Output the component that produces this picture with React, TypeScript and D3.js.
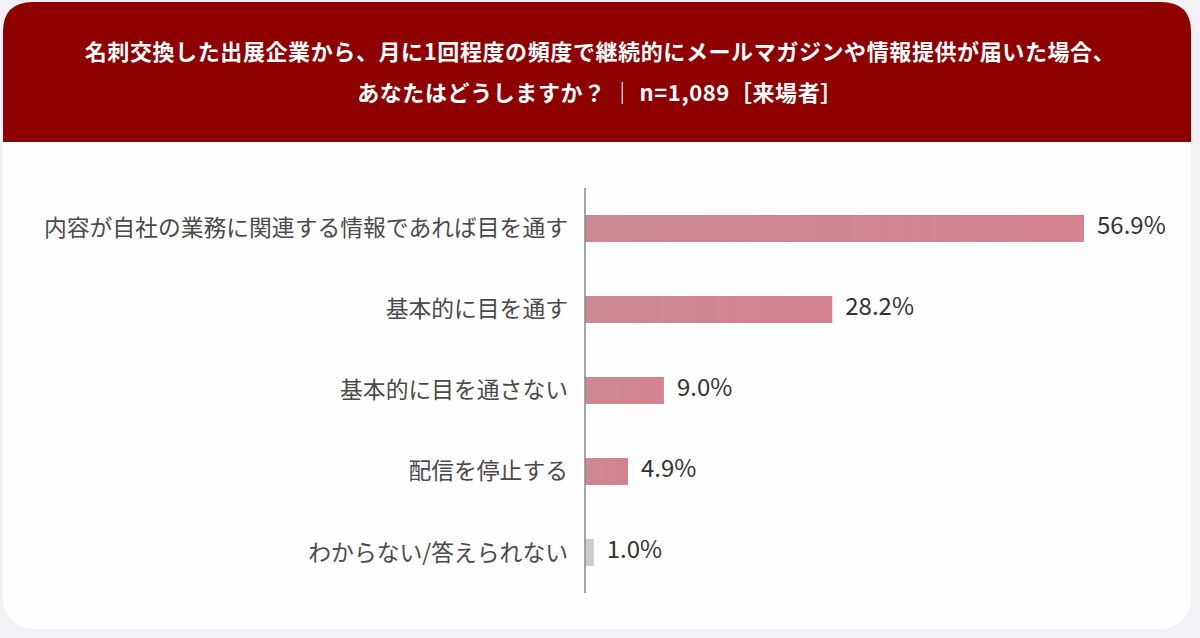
import React from "react";
import * as d3 from "d3";

const categories = [
  "内容が自社の業務に関連する情報であれば目を通す",
  "基本的に目を通す",
  "基本的に目を通さない",
  "配信を停止する",
  "わからない/答えられない",
];
const values = [56.9, 28.2, 9.0, 4.9, 1.0];
const valueLabels = ["56.9%", "28.2%", "9.0%", "4.9%", "1.0%"];
const titleLines = [
  "名刺交換した出展企業から、月に1回程度の頻度で継続的にメールマガジンや情報提供が届いた場合、",
  "あなたはどうしますか？ ｜ n=1,089［来場者］",
];

const W = 1200;
const H = 638;

export default function App() {
  const x = d3.scaleLinear().domain([0, 56.9]).range([585, 1084]);
  const y = d3.scaleBand<string>().domain(categories).range([188, 593]).paddingInner(0.667).paddingOuter(0.333);
  const font = "'Noto Sans CJK JP', 'Noto Sans', sans-serif";
  const r = 30;
  const cx0 = 3, cx1 = 1191, cy0 = 2, cy1 = 629, hb = 142;
  const headerPath = `M${cx0},${hb} L${cx0},${cy0 + r} Q${cx0},${cy0} ${cx0 + r},${cy0} L${cx1 - r},${cy0} Q${cx1},${cy0} ${cx1},${cy0 + r} L${cx1},${hb} Z`;
  return (
    <svg width={W} height={H} style={{ position: "absolute", left: 0, top: 0 }}>
      <defs>
        <linearGradient id="barGrad" x1="0" x2="1" y1="0" y2="0">
          <stop offset="0" stopColor="#c98993" />
          <stop offset="1" stopColor="#d5818f" />
        </linearGradient>
      </defs>
      <rect x={0} y={0} width={W} height={H} fill="#f3f1f5" />
      <rect x={cx0} y={cy0} width={cx1 - cx0} height={cy1 - cy0} rx={r} ry={r} fill="#fefefe" />
      <path d={headerPath} fill="#8e0000" />
      {titleLines.map((t, i) => (
        <text key={i} x={600} y={52 + i * 41} dy="0.35em" textAnchor="middle" fill="#ffffff" fontFamily={font} fontWeight={700} fontSize={22} letterSpacing={0.6}>
          {t}
        </text>
      ))}
      {categories.map((c, i) => {
        const by = y(c)!;
        const bh = y.bandwidth();
        return (
          <g key={c}>
            <rect x={x(0)} y={by} width={x(values[i]) - x(0)} height={bh} fill={i === 4 ? "#cccccc" : "url(#barGrad)"} />
            <text x={568} y={by + bh / 2} dy="0.35em" textAnchor="end" fill="#4a4a4a" fontFamily={font} fontSize={22.8}>
              {c}
            </text>
            <text x={x(values[i]) + 13} y={by + bh / 2 - 3} dy="0.35em" textAnchor="start" fill="#333333" fontFamily={font} fontSize={24}>
              {valueLabels[i]}
            </text>
          </g>
        );
      })}
      <line x1={585} x2={585} y1={188} y2={593} stroke="#888888" strokeWidth={1.5} />
    </svg>
  );
}
